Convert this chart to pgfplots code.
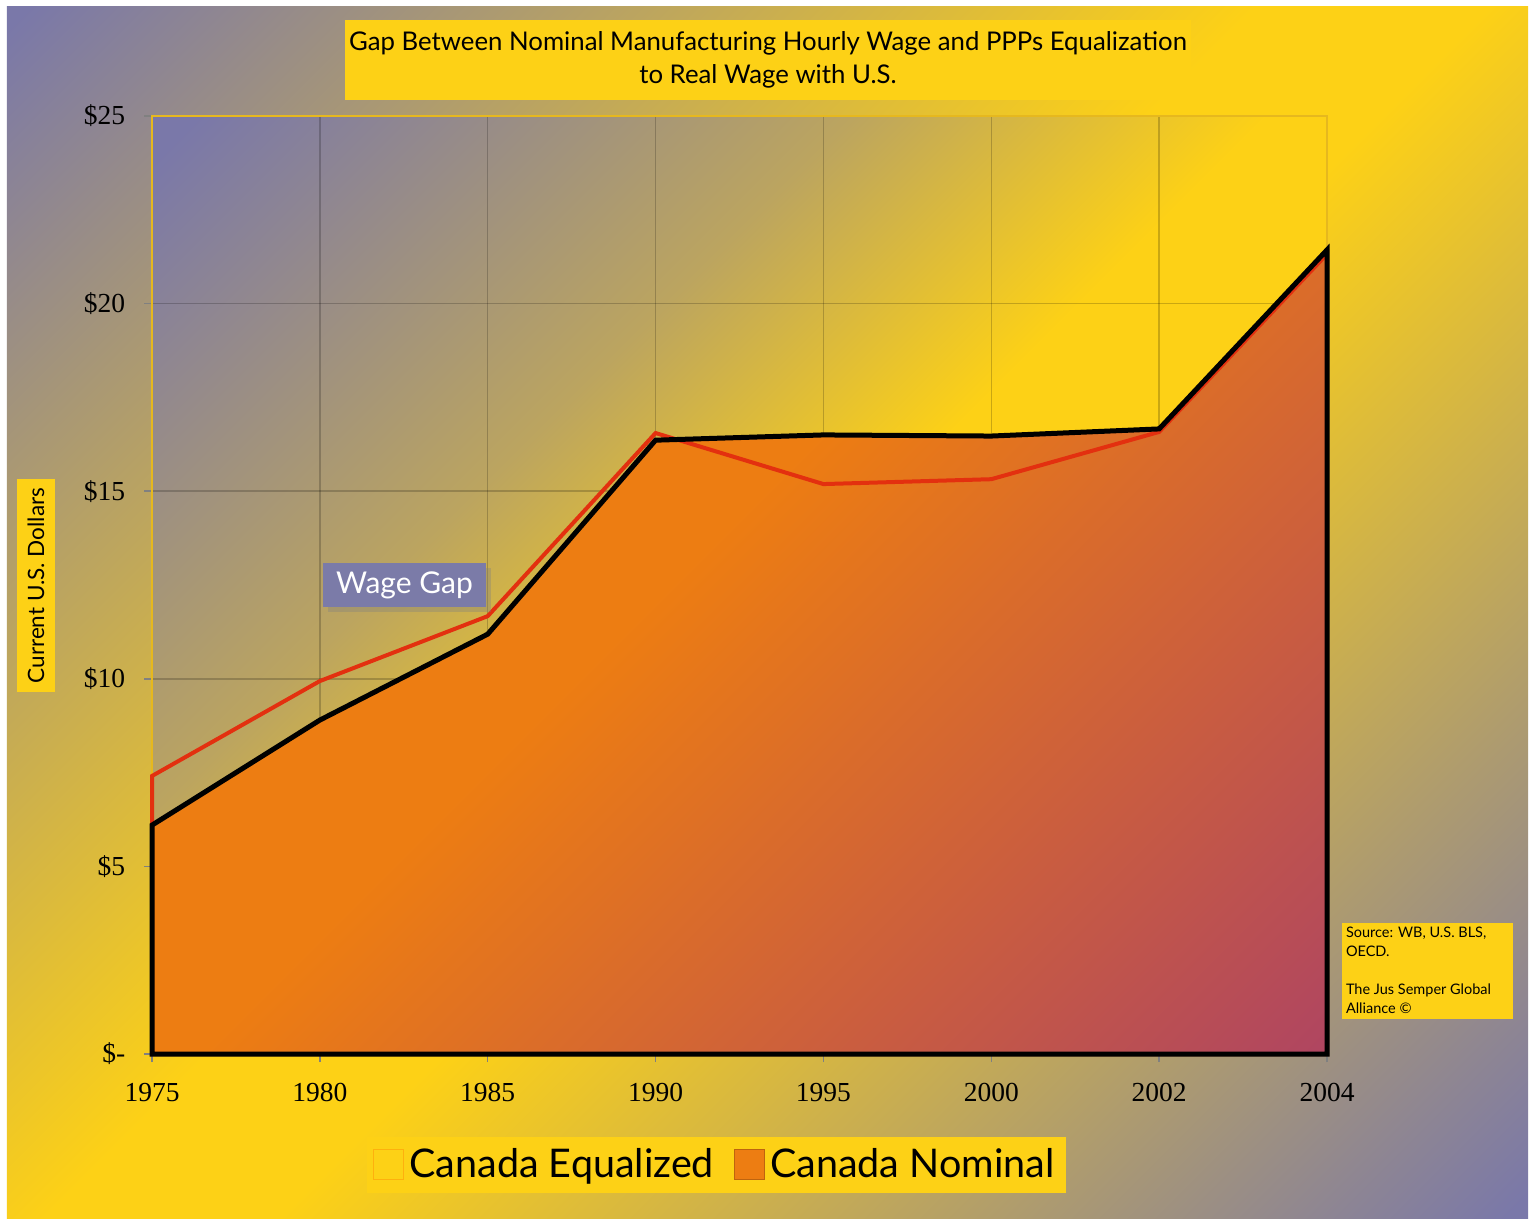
\documentclass[border=0pt]{standalone}
\usepackage{pgfplots}
\pgfplotsset{compat=1.18}
\usepackage{fontspec}
\setmainfont{Lato}
\newfontfamily\tickfont{Liberation Serif}
\usetikzlibrary{shadows}
\definecolor{bgpurple}{RGB}{122,120,169}
\definecolor{bgyellow}{RGB}{253,209,22}
\definecolor{nomorange}{RGB}{237,125,18}
\definecolor{nommauve}{RGB}{176,70,96}
\definecolor{eqred}{RGB}{227,48,15}
\definecolor{axyellow}{RGB}{230,184,30}
\definecolor{gapbox}{RGB}{123,123,168}
\colorlet{plotmix}{bgpurple!50!bgyellow}
\pgfdeclareverticalshading{bgshade}{100bp}{color(0bp)=(bgpurple); color(15bp)=(bgpurple); color(47bp)=(bgyellow); color(53bp)=(bgyellow); color(85bp)=(bgpurple); color(100bp)=(bgpurple)}
\pgfdeclareverticalshading{plotshade}{100bp}{color(0bp)=(bgyellow); color(48bp)=(bgyellow); color(62bp)=(plotmix); color(84bp)=(bgpurple); color(100bp)=(bgpurple)}
\pgfdeclareverticalshading{nomshade}{100bp}{color(0bp)=(nommauve); color(15bp)=(nommauve); color(55bp)=(nomorange); color(100bp)=(nomorange)}
\pgfplotsset{
  layers/mylayers/.define layer set={axis background,axis lines,main,axis grid,axis ticks,axis tick labels,axis descriptions,axis foreground}{},
}
\pgfplotstableread{
x y
0 7.41
1 9.94
2 11.67
3 16.55
4 15.19
5 15.32
6 16.58
7 21.32
}\equalized
\pgfplotstableread{
x y
0 6.10
1 8.90
2 11.19
3 16.36
4 16.50
5 16.47
6 16.66
7 21.43
}\nominal
\begin{document}
\begin{tikzpicture}
\fill[white] (-60.8pt,-66.4pt) rectangle (551.2pt,421.6pt);
\shade[shading=bgshade, shading angle=45] (-58pt,-65.6pt) rectangle (550.4pt,418.8pt);
\begin{axis}[
  set layers=mylayers,
  at={(0,0)}, anchor=south west,
  scale only axis, width=470pt, height=375.2pt,
  xmin=0, xmax=7, ymin=0, ymax=25,
  clip=false,
  tick pos=left,
  xtick={0,...,7}, xticklabels={1975,1980,1985,1990,1995,2000,2002,2004},
  ytick={0,5,...,25}, yticklabels={\$-,\$5,\$10,\$15,\$20,\$25},
  grid=major, grid style={black, opacity=0.2, line width=0.6pt},
  axis line style={axyellow, line width=0.8pt},
  tick style={black!50, line width=0.6pt}, tick align=outside, major tick length=3.2pt,
  tick label style={font=\tickfont\fontsize{11}{13}\selectfont},
  /pgf/number format/assume math mode=true,
  xticklabel style={yshift=-5pt},
  yticklabel style={xshift=-4pt},
  axis background/.style={shade, shading=plotshade, shading angle=45},
  legend columns=2,
  legend style={at={(0.4804,-0.1183)}, anchor=center, fill=bgyellow, draw=none,
    font=\fontsize{15.8}{19}\selectfont, inner sep=2.5pt,
    /tikz/every even column/.append style={column sep=6pt}},
]
\addplot[draw=none, shading=nomshade, shading angle=45, forget plot] table {\nominal} \closedcycle;
\addplot[eqred, line width=1.6pt, forget plot] table {\equalized} \closedcycle;
\addplot[black, line width=2pt, forget plot] table {\nominal} \closedcycle;
\addlegendimage{legend image code/.code={\draw[fill=bgyellow, draw=orange!40!bgyellow] (0pt,-6pt) rectangle (12pt,6pt);}}
\addlegendentry{Canada Equalized}
\addlegendimage{legend image code/.code={\draw[fill=nomorange, draw=nomorange!80!black] (0pt,-6pt) rectangle (12pt,6pt);}}
\addlegendentry{Canada Nominal}
\end{axis}
\node[fill=bgyellow, minimum width=338.4pt, minimum height=32pt, inner xsep=1pt, align=center, font=\fontsize{10.3}{13.2}\selectfont] at (246.4pt,397.6pt) {Gap Between Nominal Manufacturing Hourly Wage and PPPs Equalization\\to Real Wage with U.S.};
\node[fill=bgyellow, rotate=90, minimum width=82pt, minimum height=15.2pt, font=\fontsize{9}{11}\selectfont] at (-46.4pt,187.4pt) {Current U.S. Dollars};
\node[fill=gapbox, text=white, minimum width=65.2pt, minimum height=17.6pt, drop shadow={shadow xshift=2pt, shadow yshift=-2pt, opacity=0.35}, font=\fontsize{12}{15}\selectfont] at (101pt,187.6pt) {Wage Gap};
\fill[bgyellow] (476pt,14pt) rectangle (544.4pt,52.4pt);
\node[anchor=north west, align=left, inner sep=0pt, font=\fontsize{5.8}{7.6}\selectfont] at (477.4pt,51pt) {Source: WB, U.S. BLS,\\OECD.\\ \mbox{}\\The Jus Semper Global\\Alliance \textcopyright};
\end{tikzpicture}
\end{document}
